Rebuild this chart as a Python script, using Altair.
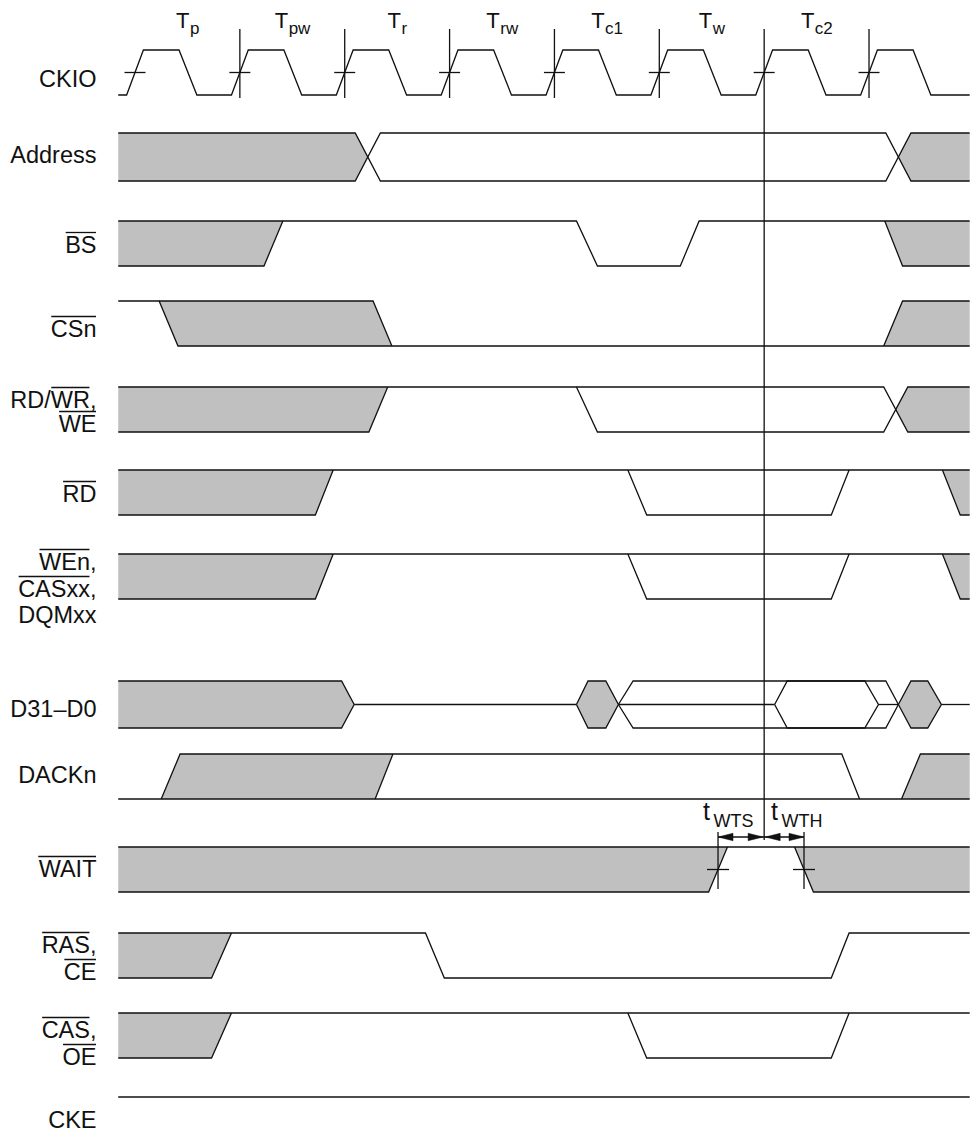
import altair as alt
import pandas as pd

# ---------------- data (time in clock cycles, levels 1=high, 0=low, .5=mid) ----
T0, TE = -0.16, 7.96

CKIO_EDGES = [0, 1, 2, 3, 4, 5, 6, 7]
CKIO_SHAPE = [(-0.08, 0), (0.08, 1), (0.42, 1), (0.59, 0)]
CKIO_MARKED = [1, 2, 3, 4, 5, 6, 7]
PERIOD_SUBS = ["p", "pw", "r", "rw", "c1", "w", "c2"]

ADDRESS_LINES = [
    [(T0, 1), (2.10, 1), (2.34, 0), (7.16, 0), (7.40, 1), (TE, 1)],
    [(T0, 0), (2.10, 0), (2.34, 1), (7.16, 1), (7.40, 0), (TE, 0)],
]
ADDRESS_FILLS = [
    [(T0, 1, 0), (2.10, 1, 0), (2.22, .5, .5)],
    [(7.28, .5, .5), (7.40, 1, 0), (TE, 1, 0)],
]
BS_LINES = [
    [(T0, 1), (4.21, 1), (4.41, 0), (5.20, 0), (5.38, 1), (TE, 1)],
    [(T0, 0), (1.23, 0), (1.41, 1)],
    [(7.15, 1), (7.32, 0), (TE, 0)],
]
BS_FILLS = [
    [(T0, 1, 0), (1.23, 1, 0), (1.41, 1, 1)],
    [(7.15, 1, 1), (7.32, 1, 0), (TE, 1, 0)],
]
CSN_LINES = [
    [(T0, 1), (0.23, 1), (0.41, 0), (TE, 0)],
    [(0.23, 1), (2.27, 1), (2.45, 0)],
    [(7.14, 0), (7.32, 1), (TE, 1)],
]
CSN_FILLS = [
    [(0.23, 1, 1), (0.41, 1, 0), (2.27, 1, 0), (2.45, 0, 0)],
    [(7.14, 0, 0), (7.32, 1, 0), (TE, 1, 0)],
]
RDWR_LINES = [
    [(T0, 1), (7.14, 1), (7.37, 0), (TE, 0)],
    [(T0, 0), (2.23, 0), (2.41, 1)],
    [(4.21, 1), (4.41, 0), (7.14, 0), (7.37, 1), (TE, 1)],
]
RDWR_FILLS = [
    [(T0, 1, 0), (2.23, 1, 0), (2.41, 1, 1)],
    [(7.255, .5, .5), (7.37, 1, 0), (TE, 1, 0)],
]
RD_LINES = [
    [(T0, 1), (TE, 1)],
    [(T0, 0), (1.72, 0), (1.89, 1)],
    [(4.70, 1), (4.88, 0), (6.64, 0), (6.81, 1)],
    [(7.70, 1), (7.87, 0), (TE, 0)],
]
RD_FILLS = [
    [(T0, 1, 0), (1.72, 1, 0), (1.89, 1, 1)],
    [(7.70, 1, 1), (7.87, 1, 0), (TE, 1, 0)],
]
WEN_LINES = [
    [(T0, 1), (TE, 1)],
    [(T0, 0), (1.72, 0), (1.89, 1)],
    [(4.70, 1), (4.88, 0), (6.64, 0), (6.81, 1)],
    [(7.70, 1), (7.87, 0), (TE, 0)],
]
WEN_FILLS = [
    [(T0, 1, 0), (1.72, 1, 0), (1.89, 1, 1)],
    [(7.70, 1, 1), (7.87, 1, 0), (TE, 1, 0)],
]
DATA_LINES = [
    [(T0, 1), (1.97, 1), (2.09, .5), (1.97, 0), (T0, 0)],
    [(2.09, .5), (4.21, .5)],
    [(4.21, .5), (4.32, 1), (4.49, 1), (4.61, .5), (4.49, 0), (4.32, 0), (4.21, .5)],
    [(4.61, .5), (4.75, 1), (7.16, 1), (7.28, .5), (7.16, 0), (4.75, 0), (4.61, .5)],
    [(4.61, .5), (6.10, .5)],
    [(6.10, .5), (6.22, 1), (6.96, 1), (7.09, .5), (6.96, 0), (6.22, 0), (6.10, .5)],
    [(7.09, .5), (7.28, .5)],
    [(7.28, .5), (7.40, 1), (7.56, 1), (7.69, .5), (7.56, 0), (7.40, 0), (7.28, .5)],
    [(7.69, .5), (TE, .5)],
]
DATA_FILLS = [
    [(T0, 1, 0), (1.97, 1, 0), (2.09, .5, .5)],
    [(4.21, .5, .5), (4.32, 1, 0), (4.49, 1, 0), (4.61, .5, .5)],
    [(7.28, .5, .5), (7.40, 1, 0), (7.56, 1, 0), (7.69, .5, .5)],
]
DACK_LINES = [
    [(T0, 0), (TE, 0)],
    [(0.25, 0), (0.43, 1), (6.74, 1), (6.91, 0)],
    [(2.29, 0), (2.46, 1)],
    [(7.31, 0), (7.49, 1), (TE, 1)],
]
DACK_FILLS = [
    [(0.25, 0, 0), (0.43, 1, 0), (2.29, 1, 0), (2.46, 1, 1)],
    [(7.31, 0, 0), (7.49, 1, 0), (TE, 1, 0)],
]
WAIT_LINES = [
    [(T0, 1), (TE, 1)],
    [(T0, 0), (5.47, 0), (5.65, 1)],
    [(6.29, 1), (6.47, 0), (TE, 0)],
]
WAIT_FILLS = [
    [(T0, 1, 0), (5.47, 1, 0), (5.65, 1, 1)],
    [(6.29, 1, 1), (6.47, 1, 0), (TE, 1, 0)],
]
WAIT_MARKS = [5.56, 6.38]          # tWTS start, tWTH end
WAIT_REF = 6.0                     # reference clock edge
RAS_LINES = [
    [(T0, 0), (0.73, 0), (0.92, 1)],
    [(T0, 1), (2.77, 1), (2.95, 0), (6.64, 0), (6.81, 1), (TE, 1)],
]
RAS_FILLS = [[(T0, 1, 0), (0.73, 1, 0), (0.92, 1, 1)]]
CAS_LINES = [
    [(T0, 0), (0.73, 0), (0.92, 1)],
    [(T0, 1), (TE, 1)],
    [(4.70, 1), (4.88, 0), (6.64, 0), (6.81, 1)],
]
CAS_FILLS = [[(T0, 1, 0), (0.73, 1, 0), (0.92, 1, 1)]]
CKE_LINES = [[(T0, 1), (TE, 1)]]

SIGNAL_LABELS = [
    [[("CKIO", 0)]],
    [[("Address", 0)]],
    [[("BS", 1)]],
    [[("CSn", 1)]],
    [[("RD/", 0), ("WR", 1), (",", 0)], [("WE", 1)]],
    [[("RD", 1)]],
    [[("WEn", 1), (",", 0)], [("CASxx", 1), (",", 0)], [("DQMxx", 0)]],
    [[("D31–D0", 0)]],
    [[("DACKn", 0)]],
    [[("WAIT", 1)]],
    [[("RAS", 1), (",", 0)], [("CE", 1)]],
    [[("CAS", 1), (",", 0)], [("OE", 1)]],
    [[("CKE", 0)]],
]
TIMING_SUBS = ["WTS", "WTH"]

# ---------------- layout (pixels of the page) ----------------
P = 104.86          # px per clock cycle
X0 = 135.0          # px of first rising edge


def px2t(px):
    return (px - X0) / P


ROW_Y = {  # (high y, low y)
    "CKIO": (50, 95), "ADDR": (133, 181), "BS": (221, 266), "CSN": (301, 346),
    "RDWR": (387, 432), "RD": (470, 515), "WEN": (554, 599), "DATA": (681, 728),
    "DACK": (754, 799), "WAIT": (847, 892), "RAS": (933, 978), "CAS": (1013, 1058),
    "CKE": (1097, 1097),
}
LABEL_BASELINES = [[87], [163], [253], [337], [408, 432], [502], [570, 597, 623],
                   [717], [783], [877], [953, 980], [1038, 1065], [1128]]
LABEL_RIGHT = 96.5
LABEL_FS = 23.5
T_FS, SUB_FS = 22, 17

AW = {'A': 667, 'B': 667, 'C': 722, 'D': 722, 'E': 667, 'H': 722, 'I': 278, 'K': 667,
      'M': 833, 'O': 778, 'Q': 778, 'R': 722, 'S': 667, 'T': 611, 'W': 944,
      'n': 556, 's': 500, 'x': 500, 'd': 556, 'r': 333, 'e': 556, ',': 278, '/': 278,
      '–': 556, '0': 556, '1': 556, '2': 556, '3': 556, 'p': 556, 'w': 722, 'c': 500,
      't': 278}


def tw(s, fs):
    return sum(AW.get(c, 556) for c in s) * fs / 1000.0


def ymap(row, lvl):
    yt, yb = ROW_Y[row]
    return yb - lvl * (yb - yt)


lines, polys = [], []
lid = [0]


def add_line(pts):  # pts: (t, y_px)
    lid[0] += 1
    for i, (t, y) in enumerate(pts):
        lines.append({"lid": lid[0], "ord": i, "t": t, "y": y})


def add_poly(pts, kind):  # pts: (t, ytop_px, ybot_px) -> closed outline
    lid[0] += 1
    ring = [(t, a) for t, a, b in pts] + [(t, b) for t, a, b in reversed(pts)]
    for i, (t, y) in enumerate(ring):
        polys.append({"gid": lid[0], "ord": i, "t": t, "y": y, "kind": kind})


SIGNALS = [
    ("ADDR", ADDRESS_LINES, ADDRESS_FILLS), ("BS", BS_LINES, BS_FILLS),
    ("CSN", CSN_LINES, CSN_FILLS), ("RDWR", RDWR_LINES, RDWR_FILLS),
    ("RD", RD_LINES, RD_FILLS), ("WEN", WEN_LINES, WEN_FILLS),
    ("DATA", DATA_LINES, DATA_FILLS), ("DACK", DACK_LINES, DACK_FILLS),
    ("WAIT", WAIT_LINES, WAIT_FILLS), ("RAS", RAS_LINES, RAS_FILLS),
    ("CAS", CAS_LINES, CAS_FILLS), ("CKE", CKE_LINES, []),
]
for row, ls, fs in SIGNALS:
    for f in fs:
        add_poly([(t, ymap(row, a), ymap(row, b)) for t, a, b in f], "gray")
    for l in ls:
        add_line([(t, ymap(row, v)) for t, v in l])

# clock
clk = [(T0, 0)]
for e in CKIO_EDGES:
    clk += [(e + dt, v) for dt, v in CKIO_SHAPE]
clk.append((TE, 0))
add_line([(t, ymap("CKIO", v)) for t, v in clk])
mid = ymap("CKIO", 0.5)
for e in CKIO_EDGES:
    add_line([(e - 0.1, mid), (e + 0.1, mid)])
for e in CKIO_MARKED:
    add_line([(e, 29), (e, 840 if e == WAIT_REF else 98)])

# WAIT setup / hold markers
wmid = ymap("WAIT", 0.5)
for m in WAIT_MARKS:
    add_line([(m - 0.105, wmid), (m + 0.105, wmid)])
    add_line([(m, 832), (m, 889)])
ay = 837
add_line([(WAIT_MARKS[0], ay), (WAIT_MARKS[1], ay)])
ah = 15 / P
for tip, d in [(WAIT_MARKS[0], 1), (WAIT_REF - 0.01, -1),
               (WAIT_REF + 0.01, 1), (WAIT_MARKS[1], -1)]:
    base = tip + d * ah
    add_poly(sorted([(tip, ay, ay), (base, ay - 3.7, ay + 3.7)]), "black")

# labels
labels, overlines = [], []
for pieces_list, bases in zip(SIGNAL_LABELS, LABEL_BASELINES):
    for pieces, yb in zip(pieces_list, bases):
        text = "".join(p for p, _ in pieces)
        x = LABEL_RIGHT - tw(text, LABEL_FS)
        labels.append({"t": px2t(LABEL_RIGHT), "y": yb, "text": text})
        for p, ov in pieces:
            w = tw(p, LABEL_FS)
            if ov:
                overlines.append({"t": px2t(x + 0.5), "t2": px2t(x + w - 0.5), "y": yb - 20.5})
            x += w

big_t, sub_t = [], []
for k, s in enumerate(PERIOD_SUBS):
    c = X0 + (k + 0.5) * P
    wT, wS = tw("T", T_FS), tw(s, SUB_FS)
    a = c - (wT + wS) / 2 + wT
    big_t.append({"t": px2t(a), "y": 28, "text": "T"})
    sub_t.append({"t": px2t(a + 0.5), "y": 34, "text": s})

small_t, small_sub = [], []
for s, left in zip(TIMING_SUBS, [703, 771]):
    small_t.append({"t": px2t(left), "y": 820, "text": "t"})
    small_sub.append({"t": px2t(left + 10.5), "y": 827, "text": s})

# ---------------- chart ----------------
xs = alt.Scale(domain=[px2t(8), px2t(970)], nice=False, zero=False)
ys = alt.Scale(domain=[8, 1132], nice=False, zero=False, reverse=True)
X = alt.X("t:Q", scale=xs, axis=None)
Y = alt.Y("y:Q", scale=ys, axis=None)
FONT = "Liberation Sans"

poly_df = pd.DataFrame(polys)
gray_layer = alt.Chart(poly_df[poly_df.kind == "gray"]).mark_line(
    fill="#c0c0c0", stroke="#c0c0c0", strokeWidth=0.01, interpolate="linear-closed"
).encode(x=X, y=Y, detail="gid:N", order="ord:Q")
black_layer = alt.Chart(poly_df[poly_df.kind == "black"]).mark_line(
    fill="#111111", stroke="#111111", strokeWidth=0.5, interpolate="linear-closed"
).encode(x=X, y=Y, detail="gid:N", order="ord:Q")

line_layer = alt.Chart(pd.DataFrame(lines)).mark_line(
    color="#111111", strokeWidth=1.3, interpolate="linear"
).encode(x=X, y=Y, detail="lid:N", order="ord:Q")

over_layer = alt.Chart(pd.DataFrame(overlines)).mark_rule(
    color="#111111", strokeWidth=1.3
).encode(x=X, x2="t2:Q", y=Y)


def text_layer(rows, align, fs):
    return alt.Chart(pd.DataFrame(rows)).mark_text(
        align=align, baseline="alphabetic", font=FONT, fontSize=fs, color="#111111"
    ).encode(x=X, y=Y, text="text:N")


chart = alt.layer(
    gray_layer, line_layer, black_layer, over_layer,
    text_layer(labels, "right", LABEL_FS),
    text_layer(big_t, "right", T_FS),
    text_layer(sub_t, "left", SUB_FS),
    text_layer(small_t, "left", 25),
    text_layer(small_sub, "left", 18),
).properties(
    width=962, height=1124, padding=0,
    autosize=alt.AutoSizeParams(type="none"),
    background="white",
).configure_view(stroke=None)

chart.save("out.html", embed_options={"renderer": "svg", "actions": False})
